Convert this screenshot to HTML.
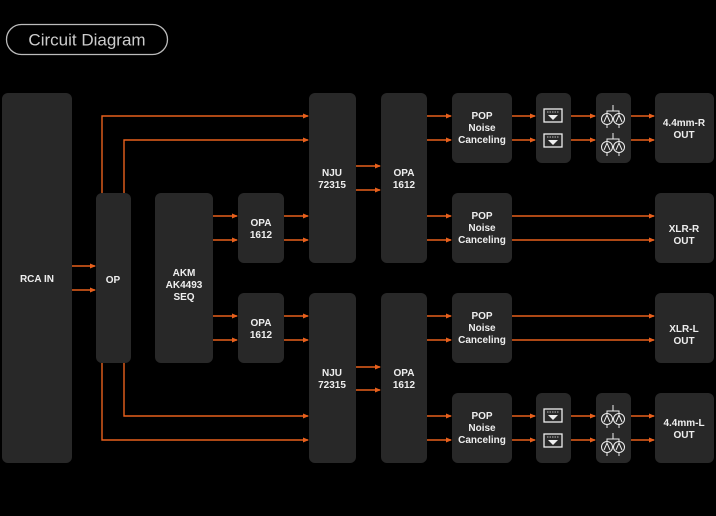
<!DOCTYPE html>
<html><head><meta charset="utf-8"><style>
html,body{margin:0;padding:0;background:#000;}
svg{display:block;}
text{font-family:"Liberation Sans",sans-serif;font-weight:bold;font-size:10px;fill:#eee;text-anchor:middle;}
</style></head><body>
<svg width="716" height="516" viewBox="0 0 716 516" xmlns="http://www.w3.org/2000/svg">
<defs>
<marker id="a" markerWidth="6" markerHeight="6" refX="5" refY="3" orient="auto" markerUnits="userSpaceOnUse">
<path d="M0,0.5 L6,3 L0,5.5 z" fill="#e8601c"/></marker>
<g id="ic">
<rect x="-9" y="-7" width="18" height="13" fill="none" stroke="#eee" stroke-width="1.3"/>
<path d="M-5,-1 L5,-1 L0,4 z" fill="#eee"/><line x1="-6" y1="-4" x2="6" y2="-4" stroke="#eee" stroke-width="0.8" stroke-dasharray="1.5,1"/>
</g>
<g id="amp" fill="none" stroke="#eee" stroke-width="1">
<circle cx="-6" cy="2" r="5.5"/><circle cx="6" cy="2" r="5.5"/>
<path d="M-9,5 L-6,-2 L-3,5 M3,5 L6,-2 L9,5"/>
<path d="M-6,-3.5 L-6,-6 L6,-6 L6,-3.5 M0,-6 L0,-12 M-6,7.5 L-6,11 M6,7.5 L6,11"/>
</g>
</defs>
<rect x="6.5" y="24.5" width="161" height="30" rx="15" fill="none" stroke="#bbb" stroke-width="1.3"/>
<text x="87" y="45.5" style="font-weight:normal;font-size:17px;fill:#ccc">Circuit Diagram</text>

<g fill="#282828">
<rect x="2" y="93" width="70" height="370" rx="6"/>
<rect x="96" y="193" width="35" height="170" rx="6"/>
<rect x="155" y="193" width="58" height="170" rx="6"/>
<rect x="238" y="193" width="46" height="70" rx="6"/>
<rect x="238" y="293" width="46" height="70" rx="6"/>
<rect x="309" y="93" width="47" height="170" rx="6"/>
<rect x="309" y="293" width="47" height="170" rx="6"/>
<rect x="381" y="93" width="46" height="170" rx="6"/>
<rect x="381" y="293" width="46" height="170" rx="6"/>
<rect x="452" y="93" width="60" height="70" rx="6"/>
<rect x="452" y="193" width="60" height="70" rx="6"/>
<rect x="452" y="293" width="60" height="70" rx="6"/>
<rect x="452" y="393" width="60" height="70" rx="6"/>
<rect x="536" y="93" width="35" height="70" rx="6"/>
<rect x="536" y="393" width="35" height="70" rx="6"/>
<rect x="596" y="93" width="35" height="70" rx="6"/>
<rect x="596" y="393" width="35" height="70" rx="6"/>
<rect x="655" y="93" width="59" height="70" rx="6"/>
<rect x="655" y="193" width="59" height="70" rx="6"/>
<rect x="655" y="293" width="59" height="70" rx="6"/>
<rect x="655" y="393" width="59" height="70" rx="6"/>
</g>

<g stroke="#e8601c" stroke-width="1.4" fill="none" marker-end="url(#a)">
<path d="M102,193 V116 H308"/><path d="M124,193 V140 H308"/>
<path d="M124,363 V416 H308"/><path d="M102,363 V440 H308"/>
<path d="M72,266 H95"/><path d="M72,290 H95"/>
<path d="M213,216 H237"/><path d="M213,240 H237"/><path d="M213,316 H237"/><path d="M213,340 H237"/>
<path d="M284,216 H308"/><path d="M284,240 H308"/><path d="M284,316 H308"/><path d="M284,340 H308"/>
<path d="M356,166 H380"/><path d="M356,190 H380"/><path d="M356,367 H380"/><path d="M356,390 H380"/>
<path d="M427,116 H451"/><path d="M427,140 H451"/><path d="M427,216 H451"/><path d="M427,240 H451"/>
<path d="M427,316 H451"/><path d="M427,340 H451"/><path d="M427,416 H451"/><path d="M427,440 H451"/>
<path d="M512,116 H535"/><path d="M512,140 H535"/><path d="M512,416 H535"/><path d="M512,440 H535"/>
<path d="M571,116 H595"/><path d="M571,140 H595"/><path d="M571,416 H595"/><path d="M571,440 H595"/>
<path d="M631,116 H654"/><path d="M631,140 H654"/><path d="M631,416 H654"/><path d="M631,440 H654"/>
<path d="M512,216 H654"/><path d="M512,240 H654"/><path d="M512,316 H654"/><path d="M512,340 H654"/>
</g>

<use href="#ic" x="553" y="116"/><use href="#ic" x="553" y="141"/>
<use href="#ic" x="553" y="416"/><use href="#ic" x="553" y="441"/>
<use href="#amp" x="613" y="117"/><use href="#amp" x="613" y="145"/>
<use href="#amp" x="613" y="417"/><use href="#amp" x="613" y="445"/>

<text x="37" y="282">RCA IN</text>
<text x="113" y="283">OP</text>
<text x="184" y="276">AKM</text><text x="184" y="288">AK4493</text><text x="184" y="300">SEQ</text>
<text x="261" y="226">OPA</text><text x="261" y="238">1612</text>
<text x="261" y="326">OPA</text><text x="261" y="338">1612</text>
<text x="332" y="176">NJU</text><text x="332" y="188">72315</text>
<text x="332" y="376">NJU</text><text x="332" y="388">72315</text>
<text x="404" y="176">OPA</text><text x="404" y="188">1612</text>
<text x="404" y="376">OPA</text><text x="404" y="388">1612</text>
<g>
<text x="482" y="119">POP</text><text x="482" y="131">Noise</text><text x="482" y="143">Canceling</text>
<text x="482" y="219">POP</text><text x="482" y="231">Noise</text><text x="482" y="243">Canceling</text>
<text x="482" y="319">POP</text><text x="482" y="331">Noise</text><text x="482" y="343">Canceling</text>
<text x="482" y="419">POP</text><text x="482" y="431">Noise</text><text x="482" y="443">Canceling</text>
</g>
<text x="684" y="126">4.4mm-R</text><text x="684" y="138">OUT</text>
<text x="684" y="232">XLR-R</text><text x="684" y="244">OUT</text>
<text x="684" y="332">XLR-L</text><text x="684" y="344">OUT</text>
<text x="684" y="426">4.4mm-L</text><text x="684" y="438">OUT</text>
</svg>
</body></html>
